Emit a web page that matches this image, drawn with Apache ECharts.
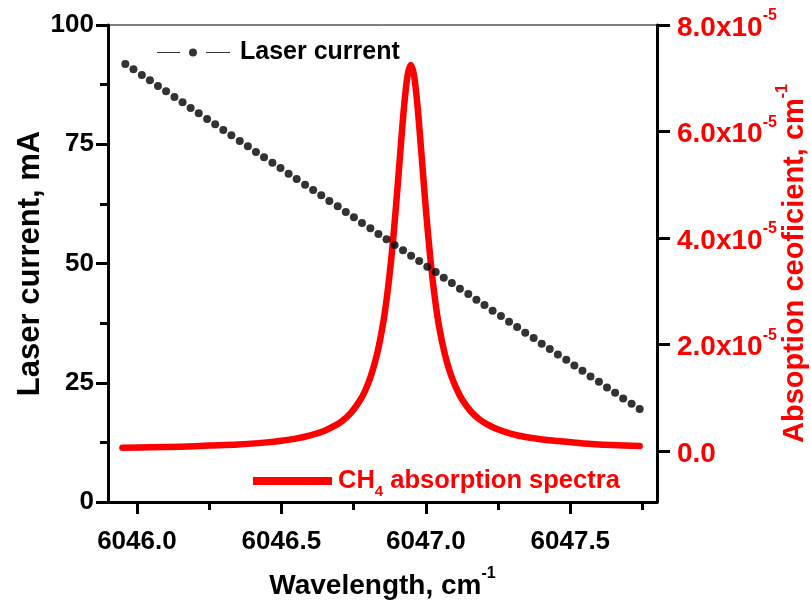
<!DOCTYPE html>
<html>
<head>
<meta charset="utf-8">
<script src="https://cdn.jsdelivr.net/npm/echarts@6/dist/echarts.min.js"></script>
<style>html,body{margin:0;padding:0;background:#fff;}#c{width:811px;height:601px;}</style>
</head>
<body>
<div id="c"></div>
<script>
// ---- data ----
const currentWavenumber = [6045.960, 6045.988, 6046.017, 6046.045, 6046.073, 6046.101, 6046.130, 6046.158, 6046.186, 6046.214,
  6046.243, 6046.271, 6046.299, 6046.327, 6046.356, 6046.384, 6046.412, 6046.440, 6046.469, 6046.497,
  6046.525, 6046.553, 6046.582, 6046.610, 6046.638, 6046.666, 6046.695, 6046.723, 6046.751, 6046.779,
  6046.808, 6046.836, 6046.864, 6046.892, 6046.921, 6046.949, 6046.977, 6047.005, 6047.034, 6047.062,
  6047.090, 6047.118, 6047.147, 6047.175, 6047.203, 6047.231, 6047.260, 6047.288, 6047.316, 6047.344,
  6047.373, 6047.401, 6047.429, 6047.457, 6047.486, 6047.514, 6047.542, 6047.570, 6047.599, 6047.627,
  6047.655, 6047.683, 6047.712, 6047.740];
const laserCurrent = [91.8, 90.7, 89.5, 88.4, 87.2, 86.1, 84.9, 83.8, 82.6, 81.5,
  80.3, 79.2, 78.0, 76.9, 75.7, 74.6, 73.4, 72.3, 71.1, 70.0,
  68.8, 67.7, 66.5, 65.4, 64.3, 63.1, 62.0, 60.8, 59.7, 58.5,
  57.4, 56.2, 55.1, 53.9, 52.8, 51.6, 50.5, 49.3, 48.2, 47.0,
  45.9, 44.7, 43.6, 42.4, 41.3, 40.1, 39.0, 37.8, 36.7, 35.5,
  34.4, 33.2, 32.1, 30.9, 29.8, 28.6, 27.5, 26.3, 25.2, 24.0,
  22.9, 21.7, 20.6, 19.5];
const absWavenumber = [6045.950, 6046.050, 6046.150, 6046.250, 6046.350, 6046.450, 6046.500, 6046.550, 6046.600, 6046.650,
  6046.680, 6046.710, 6046.740, 6046.770, 6046.790, 6046.810, 6046.830, 6046.850, 6046.865, 6046.880,
  6046.895, 6046.910, 6046.925, 6046.937, 6046.948, 6046.959, 6046.971, 6046.986, 6047.001, 6047.016,
  6047.031, 6047.046, 6047.066, 6047.086, 6047.106, 6047.126, 6047.156, 6047.186, 6047.216, 6047.246,
  6047.296, 6047.346, 6047.396, 6047.446, 6047.546, 6047.646, 6047.740];
const absCoef = [0.06e-5, 0.07e-5, 0.08e-5, 0.10e-5, 0.12e-5, 0.16e-5, 0.19e-5, 0.23e-5, 0.29e-5, 0.38e-5,
  0.46e-5, 0.56e-5, 0.71e-5, 0.93e-5, 1.13e-5, 1.41e-5, 1.79e-5, 2.33e-5, 2.88e-5, 3.59e-5,
  4.48e-5, 5.50e-5, 6.49e-5, 7.06e-5, 7.25e-5, 7.06e-5, 6.49e-5, 5.50e-5, 4.48e-5, 3.59e-5,
  2.88e-5, 2.33e-5, 1.81e-5, 1.44e-5, 1.17e-5, 0.96e-5, 0.74e-5, 0.59e-5, 0.49e-5, 0.41e-5,
  0.32e-5, 0.26e-5, 0.22e-5, 0.19e-5, 0.14e-5, 0.11e-5, 0.09e-5];
const xMajorTicks = [6046.0, 6046.5, 6047.0, 6047.5];
const xMinorTicks = [6046.25, 6046.75, 6047.25, 6047.75];
const rightTicks = [0, 2e-5, 4e-5, 6e-5, 8e-5];

const FONT = 'Liberation Sans, Arial, sans-serif';
const chart = echarts.init(document.getElementById('c'), null, {renderer: 'canvas'});
const bold = {fontFamily: FONT, fontWeight: 'bold'};

const option = {
  animation: false,
  backgroundColor: '#fff',
  grid: {left: 108, right: 154, top: 25, bottom: 99, show: true, borderColor: '#000', borderWidth: 1,
    containLabel: false, outerBoundsMode: 'none'},
  legend: [
    {
      left: 157, top: 40, padding: 0, orient: 'horizontal',
      data: [{name: 'Laser current', icon: 'path://M0,3.5L23,3.5L23,4.5L0,4.5Z M36,0A4,4 0 1,1 35.99,0Z M49,3.5L73,3.5L73,4.5L49,4.5Z'}],
      itemWidth: 73, itemHeight: 8,
      textStyle: Object.assign({fontSize: 25, color: '#000', padding: [0, 0, 0, 5]}, bold)
    },
    {
      left: 253, top: 463, padding: 0, orient: 'horizontal',
      data: [{name: 'CH4 absorption spectra', icon: 'rect'}],
      itemWidth: 79, itemHeight: 8,
      formatter: function () { return '{a|CH}{b|4}{a| absorption spectra}'; },
      textStyle: {
        color: '#ff0000', padding: [0, 0, 0, 1],
        rich: {
          a: Object.assign({fontSize: 25.5, color: '#ff0000', verticalAlign: 'middle', lineHeight: 28}, bold),
          b: Object.assign({fontSize: 15, color: '#ff0000', verticalAlign: 'middle', lineHeight: 15, padding: [21, 0, 0, 0]}, bold)
        }
      }
    }
  ],
  xAxis: [
    {
      type: 'value', min: 6045.9, max: 6047.8, position: 'bottom',
      axisLine: {show: true, onZero: false, lineStyle: {color: '#000', width: 3}},
      axisTick: {show: true, inside: false, length: 12, customValues: xMajorTicks, lineStyle: {color: '#000', width: 3}},
      axisLabel: Object.assign({show: true, customValues: xMajorTicks, fontSize: 26, color: '#000', margin: 27,
        formatter: function (v) { return v.toFixed(1); }}, bold),
      splitLine: {show: false},
      name: '{t|Wavelength, cm}{s|-1}', nameLocation: 'middle', nameGap: 64, nameMoveOverlap: false,
      nameTextStyle: {rich: {
        t: Object.assign({fontSize: 28, color: '#000', verticalAlign: 'bottom', lineHeight: 34}, bold),
        s: Object.assign({fontSize: 16, color: '#000', verticalAlign: 'top', lineHeight: 34}, bold)
      }}
    },
    {
      type: 'value', min: 6045.9, max: 6047.8, position: 'bottom', gridIndex: 0,
      axisLine: {show: false},
      axisTick: {show: true, inside: false, length: 8, customValues: xMinorTicks, lineStyle: {color: '#000', width: 3}},
      axisLabel: {show: false},
      splitLine: {show: false}
    }
  ],
  yAxis: [
    {
      type: 'value', min: 0, max: 100, interval: 25, position: 'left',
      axisLine: {show: true, onZero: false, lineStyle: {color: '#000', width: 3}},
      axisTick: {show: true, inside: false, length: 12, lineStyle: {color: '#000', width: 3}},
      minorTick: {show: true, splitNumber: 2, length: 8, lineStyle: {color: '#000', width: 3}},
      minorSplitLine: {show: false},
      axisLabel: Object.assign({fontSize: 26, color: '#000', margin: 14}, bold),
      splitLine: {show: false},
      name: 'Laser current, mA', nameLocation: 'middle', nameGap: 62, nameRotate: 90, nameMoveOverlap: false,
      nameTextStyle: Object.assign({fontSize: 31, color: '#000'}, bold)
    },
    {
      type: 'value', min: -0.96e-5, max: 8e-5, position: 'right',
      axisLine: {show: true, onZero: false, lineStyle: {color: '#000', width: 3}},
      axisTick: {show: true, inside: false, length: 13, customValues: rightTicks, lineStyle: {color: '#000', width: 3}},
      axisLabel: {
        show: true, customValues: rightTicks, margin: 20, color: '#ff0000',
        formatter: function (v) {
          if (Math.abs(v) < 1e-12) return '{a|0.0}';
          return '{a|' + (v / 1e-5).toFixed(1) + 'x10}{s|-5}';
        },
        rich: {
          a: Object.assign({fontSize: 28, color: '#ff0000', verticalAlign: 'bottom', lineHeight: 34}, bold),
          s: Object.assign({fontSize: 16, color: '#ff0000', verticalAlign: 'top', lineHeight: 34}, bold)
        }
      },
      splitLine: {show: false},
      name: '{t|Absoption ceoficient, cm}{s|-1}', nameLocation: 'middle', nameGap: 118, nameRotate: 90, nameMoveOverlap: false,
      nameTextStyle: {rich: {
        t: Object.assign({fontSize: 29, color: '#ff0000', verticalAlign: 'bottom', lineHeight: 34}, bold),
        s: Object.assign({fontSize: 16, color: '#ff0000', verticalAlign: 'top', lineHeight: 34}, bold)
      }}
    }
  ],
  series: [
    {
      name: 'Laser current', type: 'scatter', xAxisIndex: 0, yAxisIndex: 0,
      symbol: 'circle', symbolSize: 8,
      itemStyle: {color: '#000'},
      data: currentWavenumber.map((x, i) => [x, laserCurrent[i]]),
      z: 3
    },
    {
      name: 'CH4 absorption spectra', type: 'line', xAxisIndex: 0, yAxisIndex: 1,
      showSymbol: false, smooth: 0.3,
      lineStyle: {color: '#ff0000', width: 6.5, join: 'round', cap: 'round'},
      itemStyle: {color: '#ff0000'},
      data: absWavenumber.map((x, i) => [x, absCoef[i]]),
      z: 2
    }
  ]
};
chart.setOption(option);
</script>
</body>
</html>
